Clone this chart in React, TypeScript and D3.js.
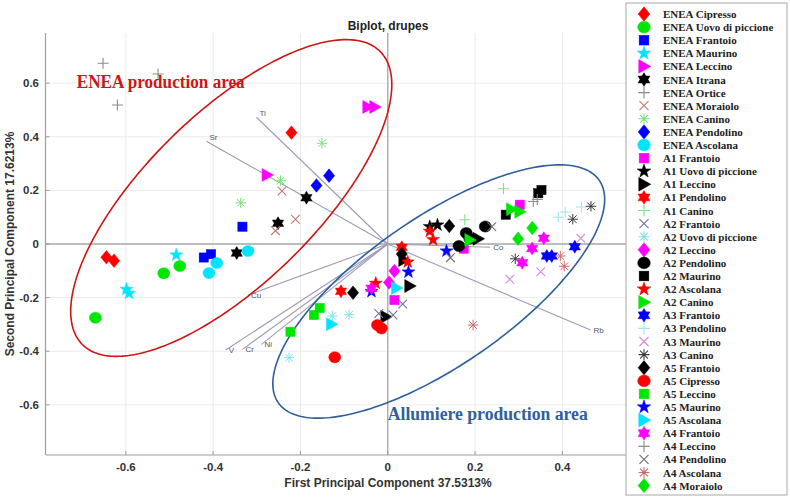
import React from "react";
import * as d3 from "d3";

const W = 790;
const H = 498;

const xTicks = [-0.6, -0.4, -0.2, 0, 0.2, 0.4];
const yTicks = [-0.6, -0.4, -0.2, 0, 0.2, 0.4, 0.6];
const xTickLabels = ["-0.6", "-0.4", "-0.2", "0", "0.2", "0.4"];
const yTickLabels = ["-0.6", "-0.4", "-0.2", "0", "0.2", "0.4", "0.6"];

const seriesNames = [
  "ENEA Cipresso", "ENEA Uovo di piccione", "ENEA Frantoio", "ENEA Maurino", "ENEA Leccino",
  "ENEA Itrana", "ENEA Ortice", "ENEA Moraiolo", "ENEA Canino", "ENEA Pendolino", "ENEA Ascolana",
  "A1 Frantoio", "A1 Uovo di piccione", "A1 Leccino", "A1 Pendolino", "A1 Canino",
  "A2 Frantoio", "A2 Uovo di piccione", "A2 Leccino", "A2 Pendolino", "A2 Maurino", "A2 Ascolana", "A2 Canino",
  "A3 Frantoio", "A3 Pendolino", "A3 Maurino", "A3 Canino",
  "A5 Frantoio", "A5 Cipresso", "A5 Leccino", "A5 Maurino", "A5 Ascolana",
  "A4 Frantoio", "A4 Leccino", "A4 Pendolino", "A4 Ascolana", "A4 Moraiolo",
];

const seriesMarkers = [
  "d", "o", "s", "p", ">", "h", "+", "x", "*", "d", "o",
  "s", "p", ">", "h", "+",
  "x", "*", "d", "o", "s", "p", ">",
  "h", "+", "x", "*",
  "d", "o", "s", "p", ">",
  "h", "+", "x", "*", "d",
];

const seriesColors = [
  "#ff0000", "#00e600", "#0000ff", "#00e5ff", "#ff00ff", "#000000", "#8c8c8c", "#c07a7a", "#7ee07e", "#0000ff", "#00e5ff",
  "#ff00ff", "#000000", "#000000", "#ff0000", "#86e086",
  "#7272a8", "#7fe3ea", "#ff00ff", "#000000", "#000000", "#ff0000", "#00e600",
  "#0000ff", "#a2e6f0", "#d68ed8", "#3a3a3a",
  "#000000", "#ff0000", "#00e600", "#0000ff", "#00e5ff",
  "#ff00ff", "#8c8c8c", "#707070", "#cc6a6a", "#00e600",
];

const seriesX = [
  [-0.2206, -0.6445, -0.627],
  [-0.5132, -0.4765, -0.6697],
  [-0.3329, -0.4215, -0.4048],
  [-0.4845, -0.5986, -0.5927],
  [-0.2765, -0.0458, -0.0298],
  [-0.1863, -0.2513, -0.3459],
  [-0.6522, -0.6193, -0.5262],
  [-0.2422, -0.2115, -0.2573],
  [-0.1505, -0.2456, -0.3368],
  [-0.1633, -0.1345],
  [-0.32, -0.3918, -0.4096],
  [0.3024, 0.1741, 0.0153],
  [0.0962, 0.1139],
  [0.2069, 0.0504, -0.0046, 0.0367],
  [0.0321, -0.1072],
  [0.2651, 0.1764],
  [0.0344, -0.0206, 0.0121],
  [-0.1271, -0.0887, -0.2261],
  [0.0153, 0.003],
  [0.2234, 0.1798, 0.1879, 0.1631],
  [0.3448, 0.3521, 0.2703],
  [0.0962, 0.1038, 0.0458, -0.0275],
  [0.2834, 0.3024, 0.1879],
  [0.3643, 0.3757, 0.4284],
  [0.3906, 0.4066, 0.4438],
  [0.4422, 0.3505, 0.2795],
  [0.4655, 0.4238, 0.2921],
  [0.1409, -0.0795, 0.0321],
  [-0.0236, -0.0144, -0.1214],
  [-0.1558, -0.1691, -0.2229],
  [0.1345, 0.0474, -0.0373],
  [0.0199, -0.129],
  [0.3574, 0.3306, 0.3081, -0.0373],
  [0.3333, 0.3425],
  [0.2383, 0.1436],
  [0.3952, 0.4043, 0.1954],
  [0.331, 0.2985],
];

const seriesY = [
  [0.4153, -0.0496, -0.0623],
  [-0.1093, -0.0821, -0.275],
  [0.0646, -0.0504, -0.0381],
  [-0.041, -0.169, -0.184],
  [0.2575, 0.5112, 0.5112],
  [0.1728, 0.0772, -0.0336],
  [0.6742, 0.5187, 0.6343],
  [0.1978, 0.0922, 0.0496],
  [0.3757, 0.2362, 0.1537],
  [0.2183, 0.2549],
  [-0.0261, -0.0709, -0.1082],
  [0.1466, -0.0175, -0.209],
  [0.0646, 0.0709],
  [0.0194, -0.1567, -0.2713, -0.0597],
  [-0.0123, -0.1765],
  [0.206, 0.0907],
  [-0.2239, -0.2593, -0.2649],
  [-0.2687, -0.2638, -0.4243],
  [-0.1007, -0.1437],
  [0.0653, 0.041, 0.0205, -0.0075],
  [0.1892, 0.2015, 0.1093],
  [0.0474, 0.016, -0.0672, -0.1466],
  [0.1295, 0.1205, 0.0149],
  [-0.0448, -0.0448, -0.0101],
  [0.0996, 0.1194, 0.1381],
  [0.0213, -0.1034, -0.1317],
  [0.1407, 0.0925, -0.0552],
  [0.0672, -0.1817, -0.0373],
  [-0.3022, -0.3146, -0.4224],
  [-0.2388, -0.2649, -0.3272],
  [-0.0261, -0.1045, -0.1772],
  [-0.1642, -0.2993],
  [0.0213, -0.0168, -0.0698, -0.1653],
  [0.1586, 0.166],
  [0.0646, -0.0511],
  [-0.0448, -0.0832, -0.3022],
  [0.0597, 0.0194],
];

const loadingNames = ["Ti", "Sr", "Co", "Rb", "Cu", "V", "Cr", "Ni"];
const loadingX = [-0.3008, -0.4154, 0.235, 0.4644, -0.32, -0.3712, -0.3329, -0.2893];
const loadingY = [0.4728, 0.3831, -0.012, -0.3209, -0.1903, -0.3955, -0.3929, -0.3744];

const ellipseLabels = ["ENEA production area", "Allumiere production area"];
const ellipseColors = ["#d01515", "#2f5f9e"];
const ellipseCX = [-0.3585, 0.1168];
const ellipseCY = [0.1716, -0.1772];
const ellipseAX = [0.3416, 0.3677];
const ellipseAY = [0.5455, 0.4146];
const ellipseBX = [0.1363, 0.0962];
const ellipseBY = [-0.2266, -0.2265];
const ellipseLabelX = [-0.7125, 0.0];
const ellipseLabelY = [0.582, -0.657];
const ellipseLabelW = [168, 200];

const plotLeft = 45.5;
const plotRight = 737;
const plotTop = 33;
const plotBottom = 455;

const x = d3.scaleLinear().domain([-0.784, 0.8]).range([plotLeft, plotRight]);
const y = d3.scaleLinear().domain([-0.787, 0.787]).range([plotBottom, plotTop]);

function starPath(n: number, outer: number, inner: number) {
  const pts: [number, number][] = [];
  for (let i = 0; i < n * 2; i++) {
    const r = i % 2 === 0 ? outer : inner;
    const a = -Math.PI / 2 + (i * Math.PI) / n;
    pts.push([r * Math.cos(a), r * Math.sin(a)]);
  }
  return "M" + pts.map((p) => p[0].toFixed(2) + "," + p[1].toFixed(2)).join("L") + "Z";
}

const pentaPath = starPath(5, 6.8, 2.7);
const hexaPath = starPath(6, 6.5, 3.8);

function Marker({ type, color, cx, cy, k = 1 }: { type: string; color: string; cx: number; cy: number; k?: number }) {
  const t = `translate(${cx},${cy}) scale(${k})`;
  switch (type) {
    case "d":
      return <path transform={t} d="M0,-6.8L5.6,0L0,6.8L-5.6,0Z" fill={color} stroke={color} strokeWidth={0.5} />;
    case "o":
      return <ellipse transform={t} rx={6} ry={5.6} fill={color} stroke={color} strokeWidth={0.5} />;
    case "s":
      return <rect transform={t} x={-4.6} y={-4.6} width={9.2} height={9.2} fill={color} stroke={color} strokeWidth={0.5} />;
    case "p":
      return <path transform={t} d={pentaPath} fill={color} stroke={color} strokeWidth={0.5} />;
    case "h":
      return <path transform={t} d={hexaPath} fill={color} stroke={color} strokeWidth={0.5} />;
    case ">":
      return <path transform={t} d="M-5,-6.5L6.5,0L-5,6.5Z" fill={color} stroke={color} strokeWidth={0.5} />;
    case "+":
      return <path transform={t} d="M-5.5,0H5.5M0,-5.5V5.5" stroke={color} strokeWidth={1.1} fill="none" />;
    case "x":
      return <path transform={t} d="M-4.3,-4.3L4.3,4.3M-4.3,4.3L4.3,-4.3" stroke={color} strokeWidth={1.1} fill="none" />;
    case "*":
      return (
        <path
          transform={t}
          d="M-5.2,0H5.2M0,-5.2V5.2M-3.8,-3.8L3.8,3.8M-3.8,3.8L3.8,-3.8"
          stroke={color}
          strokeWidth={1}
          fill="none"
        />
      );
    default:
      return null;
  }
}

function ellipsePath(i: number) {
  const n = 240;
  const pts: [number, number][] = d3.range(n).map((j) => {
    const t = (j / n) * Math.PI * 2;
    const dx = ellipseCX[i] + Math.cos(t) * ellipseAX[i] + Math.sin(t) * ellipseBX[i];
    const dy = ellipseCY[i] + Math.cos(t) * ellipseAY[i] + Math.sin(t) * ellipseBY[i];
    return [x(dx), y(dy)];
  });
  return d3.line().curve(d3.curveLinearClosed)(pts) || "";
}

export default function App() {
  const font = "'Liberation Sans', Arial, Helvetica, sans-serif";
  const serif = "'Liberation Serif', 'DejaVu Serif', serif";
  const legendX = 626;
  const legendY = 3;
  const legendW = 161;
  const legendH = 492;
  return (
    <svg width={W} height={H} style={{ position: "absolute", left: 0, top: 0, background: "#fff" }}>
      <rect x={0} y={0} width={W} height={H} fill="#fff" />
      {/* grid */}
      {xTicks.map((t) => (
        <line key={"gx" + t} x1={x(t)} x2={x(t)} y1={plotTop} y2={plotBottom} stroke="#ebebeb" strokeWidth={1} />
      ))}
      {yTicks.map((t) => (
        <line key={"gy" + t} x1={plotLeft} x2={plotRight} y1={y(t)} y2={y(t)} stroke="#ebebeb" strokeWidth={1} />
      ))}
      {/* zero lines */}
      <line x1={x(0)} x2={x(0)} y1={plotTop} y2={plotBottom} stroke="#a8a8a8" strokeWidth={1.3} />
      <line x1={plotLeft} x2={plotRight} y1={y(0)} y2={y(0)} stroke="#a8a8a8" strokeWidth={1.3} />
      {/* axes */}
      <line x1={plotLeft} x2={plotLeft} y1={plotTop} y2={plotBottom} stroke="#a0a0a0" strokeWidth={1.2} />
      <line x1={plotLeft} x2={plotRight} y1={plotBottom} y2={plotBottom} stroke="#a0a0a0" strokeWidth={1.2} />
      {xTicks.map((t) => (
        <line key={"tx" + t} x1={x(t)} x2={x(t)} y1={plotBottom} y2={plotBottom - 4} stroke="#a0a0a0" />
      ))}
      {yTicks.map((t) => (
        <line key={"ty" + t} x1={plotLeft} x2={plotLeft + 4} y1={y(t)} y2={y(t)} stroke="#a0a0a0" />
      ))}
      {xTicks.map((t, i) => (
        <text key={"lx" + t} x={x(t)} y={471} textAnchor="middle" fontFamily={font} fontWeight="bold" fontSize={11.5} fill="#333">
          {xTickLabels[i]}
        </text>
      ))}
      {yTicks.map((t, i) => (
        <text key={"ly" + t} x={39} y={y(t) + 4} textAnchor="end" fontFamily={font} fontWeight="bold" fontSize={11.5} fill="#333">
          {yTickLabels[i]}
        </text>
      ))}
      {/* loadings */}
      {loadingNames.map((n, i) => (
        <g key={"ld" + n}>
          <line x1={x(0)} y1={y(0)} x2={x(loadingX[i])} y2={y(loadingY[i])} stroke="#9d9dbb" strokeWidth={1.1} />
          <text x={x(loadingX[i]) + 3} y={y(loadingY[i]) + (loadingY[i] > 0.3 ? -1 : 3)} fontFamily={font} fontSize={8} fill="#555">
            {n}
          </text>
        </g>
      ))}
      {/* ellipses */}
      {ellipseLabels.map((l, i) => (
        <path key={"el" + i} d={ellipsePath(i)} fill="none" stroke={ellipseColors[i]} strokeWidth={1.6} />
      ))}
      {/* points */}
      {seriesNames.map((n, si) =>
        seriesX[si].map((vx, j) => (
          <Marker key={n + j} type={seriesMarkers[si]} color={seriesColors[si]} cx={x(vx)} cy={y(seriesY[si][j])} />
        ))
      )}
      {/* ellipse labels */}
      {ellipseLabels.map((l, i) => (
        <text
          key={"elt" + i}
          x={x(ellipseLabelX[i])}
          y={y(ellipseLabelY[i])}
          fontFamily={serif}
          fontWeight="bold"
          fontSize={18}
          fill={ellipseColors[i]}
          textLength={ellipseLabelW[i]}
          lengthAdjust="spacingAndGlyphs"
        >
          {l}
        </text>
      ))}
      {/* title and axis labels */}
      <text x={388} y={30} textAnchor="middle" fontFamily={font} fontWeight="bold" fontSize={12} fill="#222">
        Biplot, drupes
      </text>
      <text x={388} y={487} textAnchor="middle" fontFamily={font} fontWeight="bold" fontSize={12} fill="#333">
        First Principal Component 37.5313%
      </text>
      <text
        transform={`translate(14,${y(0)}) rotate(-90)`}
        textAnchor="middle"
        fontFamily={font}
        fontWeight="bold"
        fontSize={12}
        fill="#333"
      >
        Second Principal Component 17.6213%
      </text>
      {/* legend */}
      <rect x={legendX} y={legendY} width={legendW} height={legendH} fill="#fff" stroke="#a8a8a8" strokeWidth={1} />
      {seriesNames.map((n, i) => {
        const cy = 14 + i * 13.1;
        return (
          <g key={"lg" + n}>
            <Marker type={seriesMarkers[i]} color={seriesColors[i]} cx={644} cy={cy} k={1.05} />
            <text x={663} y={cy + 4} fontFamily={serif} fontWeight="bold" fontSize={11} fill="#222">
              {n}
            </text>
          </g>
        );
      })}
    </svg>
  );
}
